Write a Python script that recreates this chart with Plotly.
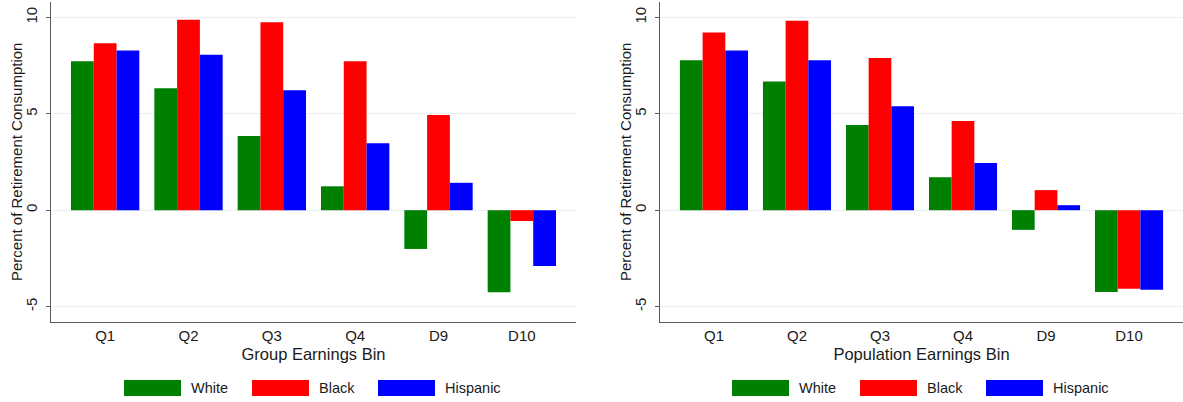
import plotly.graph_objects as go

categories = ["Q1", "Q2", "Q3", "Q4", "D9", "D10"]
series_names = ["White", "Black", "Hispanic"]
series_colors = ["#008000", "#ff0000", "#0000ff"]

# Left panel: Group Earnings Bin
group_white = [7.72, 6.33, 3.85, 1.24, -2.01, -4.26]
group_black = [8.66, 9.88, 9.75, 7.72, 4.94, -0.56]
group_hispanic = [8.28, 8.07, 6.22, 3.47, 1.42, -2.89]

# Right panel: Population Earnings Bin
pop_white = [7.78, 6.67, 4.42, 1.71, -1.02, -4.25]
pop_black = [9.22, 9.83, 7.90, 4.63, 1.04, -4.08]
pop_hispanic = [8.28, 7.78, 5.39, 2.45, 0.26, -4.13]

x_titles = ["Group Earnings Bin", "Population Earnings Bin"]
y_title = "Percent of Retirement Consumption"
y_ticks = [-5, 0, 5, 10]

W, H = 1183, 402
FONT = "Liberation Sans, Arial, sans-serif"
TXT = "#1a1a1a"
GRID = "#e9f0f1"
AXIS = "#5a5a5a"

fig = go.Figure()
panels = [
    ("x", "y", [group_white, group_black, group_hispanic]),
    ("x2", "y2", [pop_white, pop_black, pop_hispanic]),
]
for xa, ya, data in panels:
    for name, color, vals in zip(series_names, series_colors, data):
        fig.add_trace(go.Bar(
            x=categories, y=vals, name=name, xaxis=xa, yaxis=ya,
            marker=dict(color=color, line=dict(width=0)),
            showlegend=False,
        ))

plot_top, plot_bot = 2, 322
def py(p):
    return (plot_bot - p) / (plot_bot - plot_top)

dom_px = [(51, 576), (660, 1183)]
axis_common = dict(showline=True, linecolor=AXIS, linewidth=1, mirror=False)
for i, (a, b) in enumerate(dom_px):
    sfx = "" if i == 0 else str(i + 1)
    fig.layout["xaxis" + sfx] = dict(
        domain=[a / W, b / W], range=[-0.65, 5.65], type="category",
        showgrid=False, zeroline=False, ticks="",
        tickfont=dict(size=15, color=TXT, family=FONT),
        title=dict(text=x_titles[i], font=dict(size=16.5, color=TXT, family=FONT), standoff=5),
        anchor="y" + sfx, **axis_common,
    )
    fig.layout["yaxis" + sfx] = dict(
        range=[-5.8, 10.8], tickvals=y_ticks, ticktext=[str(v) for v in y_ticks],
        tickangle=-90, ticks="outside", ticklen=4, tickcolor=AXIS,
        ticklabelstandoff=3,
        showgrid=True, gridcolor=GRID, gridwidth=1.3, zeroline=False,
        tickfont=dict(size=15, color=TXT, family=FONT),
        anchor="x" + sfx, **axis_common,
    )
    # y-axis title placed as text beside the axis
    fig.add_annotation(xref="paper", yref="paper", x=(a - 35) / W, y=0.5,
                       text=y_title, textangle=-90, showarrow=False,
                       xanchor="center", yanchor="middle",
                       font=dict(size=15, color=TXT, family=FONT))

# Legend swatches below each panel (positions in pixels relative to panel centre)
sw_offsets = [-189.5, -61.5, 64.5]
sw_w, sw_h, sw_cy = 57, 16, 388
for a, b in dom_px:
    cx = (a + b) / 2
    for off, name, color in zip(sw_offsets, series_names, series_colors):
        x0 = cx + off
        fig.add_shape(type="rect", xref="paper", yref="paper",
                      x0=x0 / W, x1=(x0 + sw_w) / W,
                      y0=py(sw_cy + sw_h / 2), y1=py(sw_cy - sw_h / 2),
                      fillcolor=color, line=dict(width=0))
        fig.add_annotation(xref="paper", yref="paper", x=(x0 + sw_w + 8) / W,
                           y=py(sw_cy), text=name, showarrow=False,
                           xanchor="left", yanchor="middle",
                           font=dict(size=14.5, color=TXT, family=FONT))

fig.update_layout(
    width=W, height=H,
    margin=dict(l=0, r=0, t=plot_top, b=H - plot_bot),
    barmode="group", bargap=0.18, bargroupgap=0,
    plot_bgcolor="white", paper_bgcolor="white",
    showlegend=False,
    font=dict(family=FONT, color=TXT),
)

fig.write_html("out.html", config={"displayModeBar": False},
               post_script="document.body.style.margin='0';document.body.style.overflow='hidden';")
